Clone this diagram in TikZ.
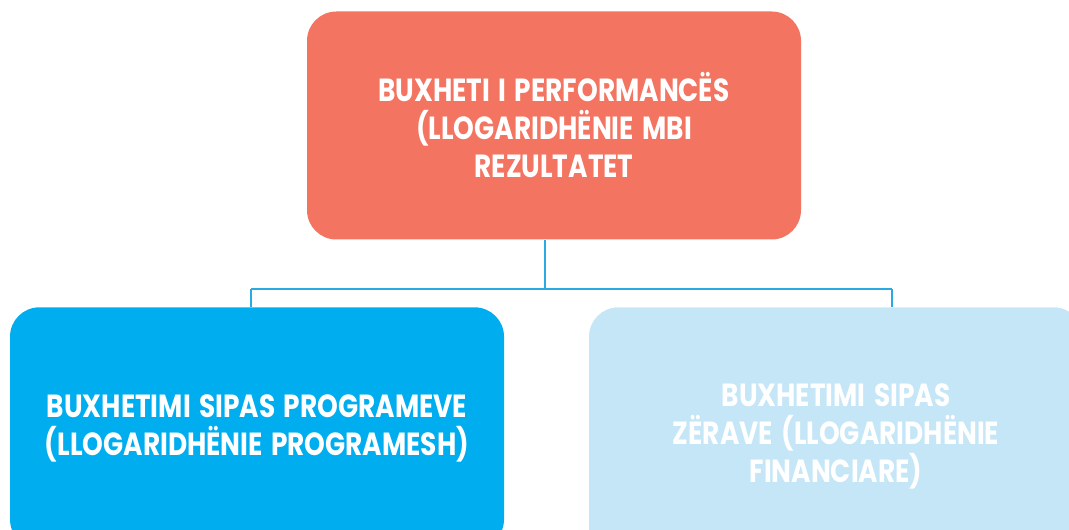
\documentclass[tikz,border=0pt]{standalone}
\usepackage{fontspec}
\setmainfont[FakeStretch=0.825,WordSpace=1.5]{Poppins}
\usetikzlibrary{positioning}

\definecolor{salmon}{HTML}{F37561}
\definecolor{progblue}{HTML}{00AEEF}
\definecolor{paleblue}{HTML}{C4E6F6}
\definecolor{linkblue}{HTML}{29ABE2}

\tikzset{
  box/.style={rounded corners=22pt, minimum width=370.5pt, minimum height=171pt,
              align=center, text=white, inner sep=0pt,
              font=\bfseries\fontsize{24}{28.5}\selectfont},
  link/.style={linkblue, line width=1.5pt}
}

\begin{document}
\begin{tikzpicture}[x=0.75pt,y=-0.75pt]

% Page size (in pixels)
\useasboundingbox (0,0) rectangle (1069,530);

% The three boxes (the lower two run past the bottom edge)
\node[box, fill=salmon]                          (top)  at (554,125.5) {BUXHETI I PERFORMANCËS\\(LLOGARIDHËNIE MBI\\REZULTATET};
\node[box, fill=progblue, minimum height=181pt] (prog) at (257,428)   {BUXHETIMI SIPAS PROGRAMEVE\\(LLOGARIDHËNIE PROGRAMESH)};
\node[box, fill=paleblue, minimum height=193pt] (fin)  at (836,436)   {BUXHETIMI SIPAS\\ZËRAVE (LLOGARIDHËNIE\\FINANCIARE)};

% Joints of the connector
\coordinate (mj) at (545,289);
\coordinate (lj) at (251,289);
\coordinate (rj) at (892,289);

% Connector from the top box down to both boxes below
\draw[link] (mj |- top.south) -- (mj)
            (lj) -- (rj)
            (lj) -- (lj |- prog.north)
            (rj) -- (rj |- fin.north);

\end{tikzpicture}
\end{document}
